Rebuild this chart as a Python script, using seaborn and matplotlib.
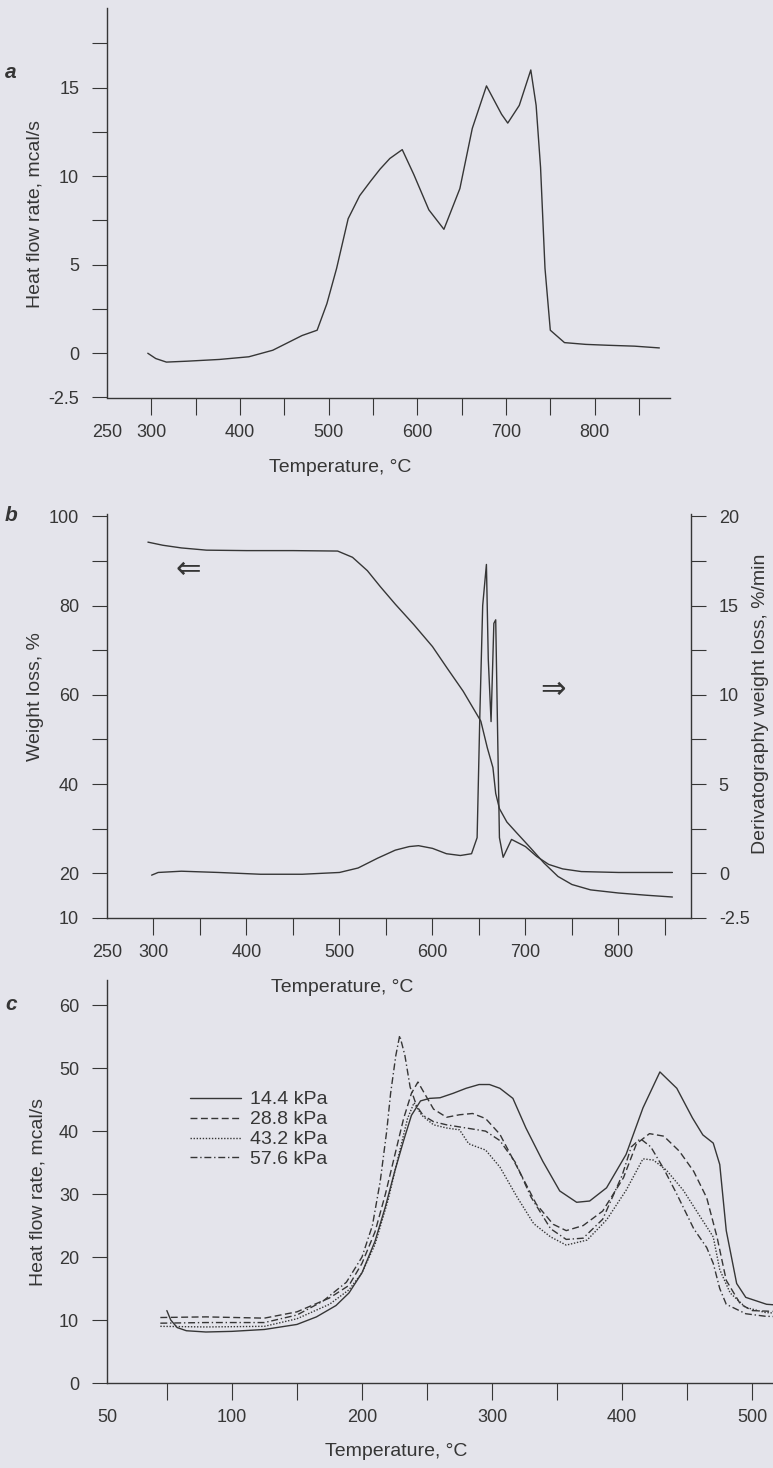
import numpy as np
import pandas as pd
import seaborn as sns
from matplotlib import pyplot as plt
from matplotlib.ticker import FixedLocator, FixedFormatter

# ---------------- panel a : heat flow (DSC) ----------------
a_temp = [296, 305, 317, 340, 377, 410, 437, 470, 487, 498, 509, 522, 535, 547, 558, 569, 583,
          596, 613, 630, 648, 662, 678, 695, 702, 715, 728, 734, 739, 744, 750, 766, 790, 815, 845, 873]
a_heat = [0.0, -0.3, -0.5, -0.45, -0.35, -0.2, 0.17, 1.0, 1.3, 2.8, 4.8, 7.6, 8.9, 9.7, 10.4, 11.0, 11.5,
          10.1, 8.1, 7.0, 9.3, 12.7, 15.1, 13.5, 13.0, 14.0, 16.0, 14.0, 10.5, 4.8, 1.3, 0.6, 0.5, 0.45, 0.4, 0.3]
a_xticks = [250, 300, 400, 500, 600, 700, 800]
a_xminor = [350, 450, 550, 650, 750, 850]
a_yticks = [-2.5, 0, 2.5, 5, 7.5, 10, 12.5, 15, 17.5]
a_ylabels = ["-2.5", "0", "", "5", "", "10", "", "15", ""]

# ---------------- panel b : TG (left) and DTG (right) ----------------
b_tg_temp = [294, 310, 330, 357, 400, 450, 498, 514, 530, 544, 560, 580, 600, 616, 633, 652, 659, 665,
             668, 672, 680, 690, 705, 720, 735, 750, 770, 800, 830, 858]
b_tg_weight = [94.2, 93.5, 92.9, 92.4, 92.3, 92.3, 92.2, 90.8, 87.8, 84.2, 80.3, 75.7, 70.8, 65.9, 60.8,
               54.1, 48.1, 43.7, 37.9, 34.5, 31.5, 29.2, 25.8, 22.3, 19.3, 17.5, 16.3, 15.6, 15.1, 14.7]
b_dtg_temp = [298, 305, 330, 370, 415, 460, 500, 520, 541, 560, 575, 585, 600, 615, 630, 642, 648, 651,
              654, 658, 660, 663, 666, 668, 670, 672, 676, 685, 700, 712, 725, 740, 760, 800, 830, 858]
b_dtg_rate = [-0.1, 0.05, 0.12, 0.05, -0.05, -0.05, 0.05, 0.3, 0.85, 1.3, 1.5, 1.55, 1.4, 1.1, 1.0, 1.1,
              2.0, 9.0, 15.0, 17.3, 12.0, 8.5, 14.0, 14.2, 8.0, 2.0, 0.9, 1.9, 1.5, 0.95, 0.5, 0.25, 0.1,
              0.05, 0.05, 0.05]
b_xticks = [250, 300, 400, 500, 600, 700, 800]
b_xminor = [350, 450, 550, 650, 750, 850]
b_yticks = [10, 20, 30, 40, 50, 60, 70, 80, 90, 100]
b_ylabels = ["10", "20", "", "40", "", "60", "", "80", "", "100"]
b_y2ticks = [-2.5, 0, 2.5, 5, 7.5, 10, 12.5, 15, 17.5, 20]
b_y2labels = ["-2.5", "0", "", "5", "", "10", "", "15", "", "20"]

# ---------------- panel c : heat flow at four pressures ----------------
c_labels = ["14.4 kPa", "28.8 kPa", "43.2 kPa", "57.6 kPa"]
c_temp_144 = [50, 53, 58, 65, 80, 100, 125, 150, 165, 180, 190, 200, 210, 218, 225, 232, 238, 245, 252,
              260, 270, 280, 290, 298, 306, 316, 326, 339, 352, 365, 375, 388, 403, 416, 429, 442, 454,
              462, 470, 475, 480, 488, 495, 511, 525]
c_heat_144 = [11.5, 10.0, 8.8, 8.3, 8.1, 8.2, 8.5, 9.3, 10.5, 12.3, 14.3, 17.5, 22.5, 28.0, 33.5, 38.5,
              42.5, 44.8, 45.2, 45.3, 46.0, 46.8, 47.4, 47.4, 46.8, 45.2, 40.5, 35.2, 30.5, 28.7, 28.9,
              31.0, 36.3, 43.7, 49.4, 46.8, 42.1, 39.4, 38.1, 34.7, 24.2, 15.8, 13.6, 12.5, 12.3]
c_temp_288 = [45, 80, 125, 150, 175, 190, 200, 210, 218, 225, 232, 238, 243, 248, 255, 265, 275, 285,
              295, 306, 321, 334, 347, 357, 370, 385, 401, 411, 421, 432, 444, 455, 465, 473, 480, 491,
              500, 525]
c_heat_288 = [10.4, 10.5, 10.3, 11.3, 13.5, 15.5, 19.0, 24.0, 30.0, 36.0, 42.0, 46.0, 47.8, 46.0, 43.5,
              42.2, 42.6, 42.8, 42.0, 39.5, 33.6, 28.4, 25.2, 24.2, 25.0, 27.3, 32.6, 38.0, 39.6, 39.2,
              36.8, 33.6, 29.4, 23.1, 16.3, 12.5, 11.5, 11.3]
c_temp_432 = [45, 80, 125, 150, 175, 190, 200, 210, 220, 228, 235, 240, 246, 255, 265, 275, 282, 287,
              295, 306, 319, 332, 345, 357, 373, 388, 403, 416, 424, 434, 447, 460, 470, 475, 483, 495,
              510, 525]
c_heat_432 = [9.0, 8.9, 9.0, 10.2, 12.5, 14.8, 17.5, 22.0, 29.0, 36.0, 42.0, 44.5, 42.5, 41.0, 40.5,
              40.2, 38.0, 37.6, 37.0, 34.3, 29.6, 25.3, 23.2, 21.9, 22.7, 25.9, 30.6, 35.6, 35.4, 33.8,
              30.6, 26.4, 23.2, 18.0, 14.3, 12.0, 11.2, 11.0]
c_temp_576 = [45, 80, 125, 150, 170, 188, 200, 208, 214, 219, 222, 226, 229, 233, 237, 242, 247, 255,
              265, 280, 295, 306, 318, 330, 345, 357, 370, 385, 400, 407, 414, 422, 432, 442, 455, 465,
              470, 475, 480, 495, 510, 525]
c_heat_576 = [9.5, 9.6, 9.6, 10.8, 13.0, 16.0, 20.0, 25.0, 32.0, 40.0, 46.0, 52.0, 55.2, 52.0, 47.0,
              44.0, 42.5, 41.5, 41.0, 40.5, 40.0, 38.5, 35.0, 29.5, 24.5, 22.8, 23.0, 26.0, 33.0, 37.5,
              38.8, 37.5, 34.0, 30.0, 24.5, 21.5, 19.0, 15.0, 12.5, 11.0, 10.6, 10.5]
c_xticks = [4, 100, 200, 300, 400, 500]
c_xticklabels = ["50", "100", "200", "300", "400", "500"]
c_xminor = [50, 150, 250, 350, 450]
c_yticks = [0, 10, 20, 30, 40, 50, 60]

# ---------------- style ----------------
bg = "#e4e4eb"
ink = "#363636"
W, H = 773, 1468
label_size = 14

sns.set_theme(style="ticks")
plt.rcParams["font.family"] = ["Liberation Sans", "DejaVu Sans"]
plt.rcParams["text.color"] = ink
plt.rcParams["axes.labelcolor"] = ink
plt.rcParams["xtick.color"] = ink
plt.rcParams["ytick.color"] = ink
plt.rcParams["axes.edgecolor"] = ink


def px_axes(fig, left, top, right, bottom):
    # axes box given in pixels of the final image
    return fig.add_axes([left / W, 1 - bottom / H, (right - left) / W, (bottom - top) / H])


def style_axes(ax, right_spine=False):
    ax.set_facecolor("none")
    ax.spines["top"].set_visible(False)
    ax.spines["right"].set_visible(right_spine)
    for s in ax.spines.values():
        s.set_linewidth(1.0)
    ax.tick_params(axis="y", which="both", direction="out", length=11, width=0.8, pad=9, labelsize=13)
    ax.tick_params(axis="x", which="both", direction="out", length=12, width=0.8, pad=7, labelsize=13)


fig = plt.figure(figsize=(W / 100, H / 100), dpi=100, facecolor=bg)

# ---- a ----
ax_a = px_axes(fig, 107, 8, 670, 397.5)
sns.lineplot(x=a_temp, y=a_heat, ax=ax_a, color=ink, linewidth=1.0, sort=False, estimator=None)
ax_a.set_xlim(250, 885)
ax_a.set_ylim(-2.5, 19.5)
style_axes(ax_a)
ax_a.xaxis.set_major_locator(FixedLocator(a_xticks))
ax_a.xaxis.set_major_formatter(FixedFormatter([str(t) for t in a_xticks]))
ax_a.xaxis.set_minor_locator(FixedLocator(a_xminor))
ax_a.xaxis.get_major_ticks()[0].tick1line.set_visible(False)
ax_a.yaxis.set_major_locator(FixedLocator(a_yticks))
ax_a.yaxis.set_major_formatter(FixedFormatter(a_ylabels))
ax_a.set_xlabel("Temperature, °C", fontsize=label_size)
ax_a.set_ylabel("Heat flow rate, mcal/s", fontsize=label_size)
ax_a.xaxis.set_label_coords(0.414, -0.158)
ax_a.yaxis.set_label_coords(-0.112, 0.471)

# ---- b ----
ax_b = px_axes(fig, 107, 514, 691, 918)
sns.lineplot(x=b_tg_temp, y=b_tg_weight, ax=ax_b, color=ink, linewidth=1.0, sort=False, estimator=None)
ax_b.set_xlim(250, 878)
ax_b.set_ylim(10, 100.5)
style_axes(ax_b)
ax_b.xaxis.set_major_locator(FixedLocator(b_xticks))
ax_b.xaxis.set_major_formatter(FixedFormatter([str(t) for t in b_xticks]))
ax_b.xaxis.set_minor_locator(FixedLocator(b_xminor))
ax_b.xaxis.get_major_ticks()[0].tick1line.set_visible(False)
ax_b.yaxis.set_major_locator(FixedLocator(b_yticks))
ax_b.yaxis.set_major_formatter(FixedFormatter(b_ylabels))
ax_b.set_xlabel("Temperature, °C", fontsize=label_size)
ax_b.set_ylabel("Weight loss, %", fontsize=label_size)
ax_b.xaxis.set_label_coords(0.402, -0.151)
ax_b.yaxis.set_label_coords(-0.108, 0.547)

ax_b2 = ax_b.twinx()
sns.lineplot(x=b_dtg_temp, y=b_dtg_rate, ax=ax_b2, color=ink, linewidth=1.0, sort=False, estimator=None)
ax_b2.set_ylim(-2.5, 20.125)
ax_b2.set_facecolor("none")
ax_b2.spines["top"].set_visible(False)
ax_b2.spines["left"].set_visible(False)
ax_b2.spines["bottom"].set_visible(False)
ax_b2.spines["right"].set_linewidth(1.0)
ax_b2.tick_params(axis="y", direction="out", length=11, width=0.8, pad=9, labelsize=13)
ax_b2.yaxis.set_major_locator(FixedLocator(b_y2ticks))
ax_b2.yaxis.set_major_formatter(FixedFormatter(b_y2labels))
ax_b2.set_ylabel("Derivatography weight loss, %/min", fontsize=label_size)
ax_b2.yaxis.set_label_coords(1.104, 0.53)

ax_b.text(337, 88, "⇐", fontsize=22, ha="center", va="center", family="DejaVu Sans", color=ink)
ax_b.text(730, 61.2, "⇒", fontsize=22, ha="center", va="center", family="DejaVu Sans", color=ink)

# ---- c ----
c_df = pd.concat([
    pd.DataFrame({"temp": c_temp_144, "heat": c_heat_144, "pressure": c_labels[0]}),
    pd.DataFrame({"temp": c_temp_288, "heat": c_heat_288, "pressure": c_labels[1]}),
    pd.DataFrame({"temp": c_temp_432, "heat": c_heat_432, "pressure": c_labels[2]}),
    pd.DataFrame({"temp": c_temp_576, "heat": c_heat_576, "pressure": c_labels[3]}),
])
ax_c = px_axes(fig, 107, 980, 790, 1383)
dash_map = {c_labels[0]: "", c_labels[1]: (5, 2.5), c_labels[2]: (1, 1.2), c_labels[3]: (5, 2, 1, 2)}
sns.lineplot(data=c_df, x="temp", y="heat", style="pressure", style_order=c_labels, dashes=dash_map,
             ax=ax_c, color=ink, linewidth=1.0, sort=False, estimator=None, legend=False)
ax_c.set_xlim(4, 529)
ax_c.set_ylim(0, 64)
style_axes(ax_c)
ax_c.xaxis.set_major_locator(FixedLocator(c_xticks))
ax_c.xaxis.set_major_formatter(FixedFormatter(c_xticklabels))
ax_c.xaxis.set_minor_locator(FixedLocator(c_xminor))
ax_c.xaxis.get_major_ticks()[0].tick1line.set_visible(False)
ax_c.yaxis.set_major_locator(FixedLocator(c_yticks))
ax_c.set_xlabel("Temperature, °C", fontsize=label_size)
ax_c.set_ylabel("Heat flow rate, mcal/s", fontsize=label_size)
ax_c.xaxis.set_label_coords(0.423, -0.149)
ax_c.yaxis.set_label_coords(-0.089, 0.474)
ax_c.legend(handles=ax_c.lines[:4], labels=c_labels, loc="upper left", bbox_to_anchor=(0.1215, 0.725),
            frameon=False, fontsize=14, handlelength=2.6, handletextpad=0.5, labelspacing=0.12,
            borderpad=0, borderaxespad=0)

# panel letters
for letter, y in [("a", 72), ("b", 515), ("c", 1005)]:
    fig.text(11 / W, 1 - y / H, letter, fontsize=15, fontweight="bold", fontstyle="italic",
             ha="center", va="center", color=ink)

fig.savefig("out.png", dpi=100, facecolor=bg)
